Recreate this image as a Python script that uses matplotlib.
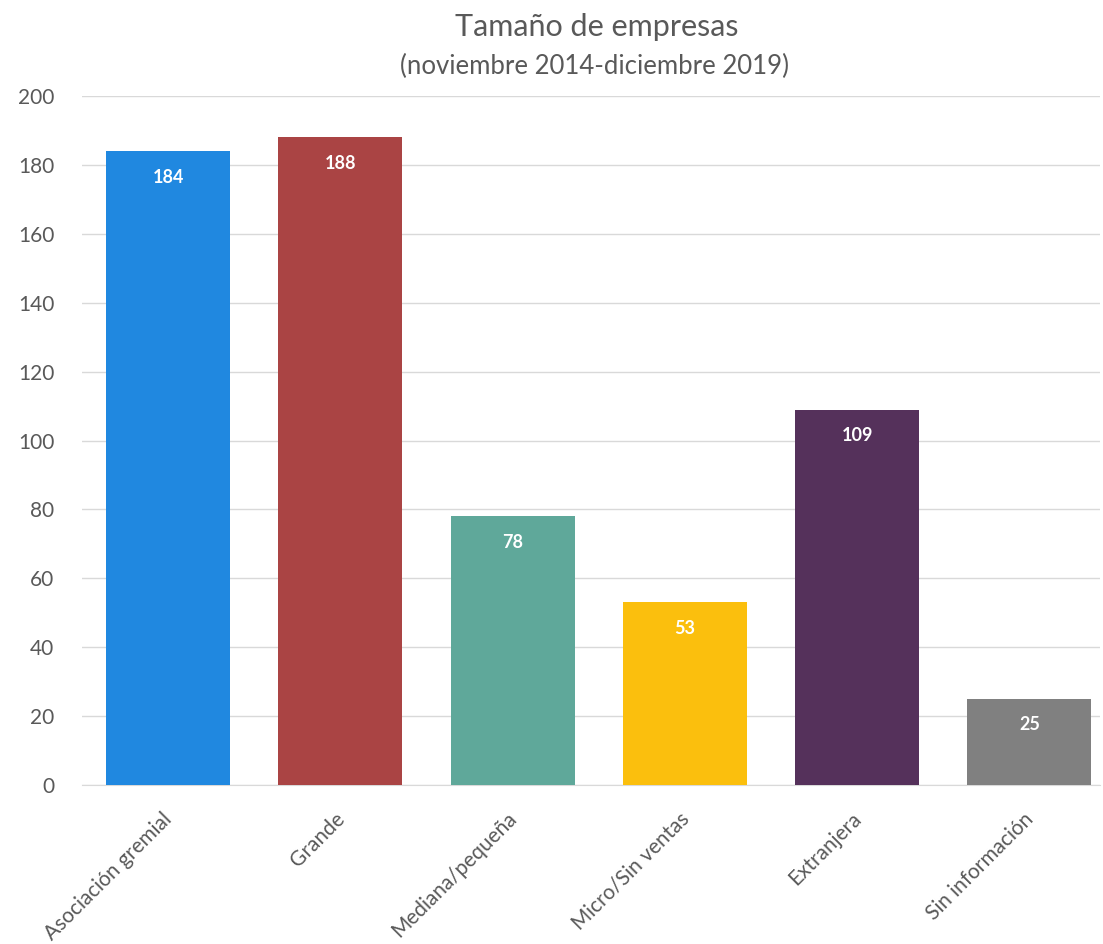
import matplotlib.pyplot as plt
from matplotlib.transforms import ScaledTranslation

categories = ['Asociación gremial', 'Grande', 'Mediana/pequeña',
              'Micro/Sin ventas', 'Extranjera', 'Sin información']
values = [184, 188, 78, 53, 109, 25]
colors = ['#2088E0', '#AA4444', '#5FA89A', '#FBBF0D', '#55315B', '#808080']
y_ticks = [0, 20, 40, 60, 80, 100, 120, 140, 160, 180, 200]

plt.rcParams['font.family'] = ['Lato', 'DejaVu Sans']

fig = plt.figure(figsize=(11.03, 9.44), dpi=100)
ax = fig.add_axes([0.0743, 0.1684, 0.9230, 0.7298])

x = range(len(categories))
bars = ax.bar(x, values, width=0.72, color=colors, zorder=3)

# value labels sit inside the top of each bar
for b, v in zip(bars, values):
    ax.text(b.get_x() + b.get_width() / 2, v - 7.5, str(v), ha='center', va='center',
            color='white', fontsize=13, fontweight='bold', zorder=4)

ax.set_ylim(0, 200)
ax.set_xlim(-0.5, 5.41)
ax.set_yticks(y_ticks)
ax.yaxis.grid(True, color='#D9D9D9', linewidth=1, zorder=0)
for s in ['top', 'right', 'left']:
    ax.spines[s].set_visible(False)
ax.spines['bottom'].set_color('#D9D9D9')
ax.tick_params(axis='both', length=0, colors='#595959')
ax.tick_params(axis='y', pad=20, labelsize=15)
ax.tick_params(axis='x', pad=17)
ax.set_xticks(list(x))
ax.set_xticklabels(categories, rotation=45, ha='right', va='top',
                   rotation_mode='anchor', fontsize=15)
shift = ScaledTranslation(-6 / 100, 0, fig.dpi_scale_trans)
for lbl in ax.get_xticklabels():
    lbl.set_transform(lbl.get_transform() + shift)

fig.text(0.541, 1 - 36 / 944, 'Tamaño de empresas', ha='center', va='baseline',
         fontsize=22, color='#595959')
fig.text(0.539, 1 - 74 / 944, '(noviembre 2014-diciembre 2019)', ha='center', va='baseline',
         fontsize=18.5, color='#595959')

fig.savefig('out.png', dpi=100)
